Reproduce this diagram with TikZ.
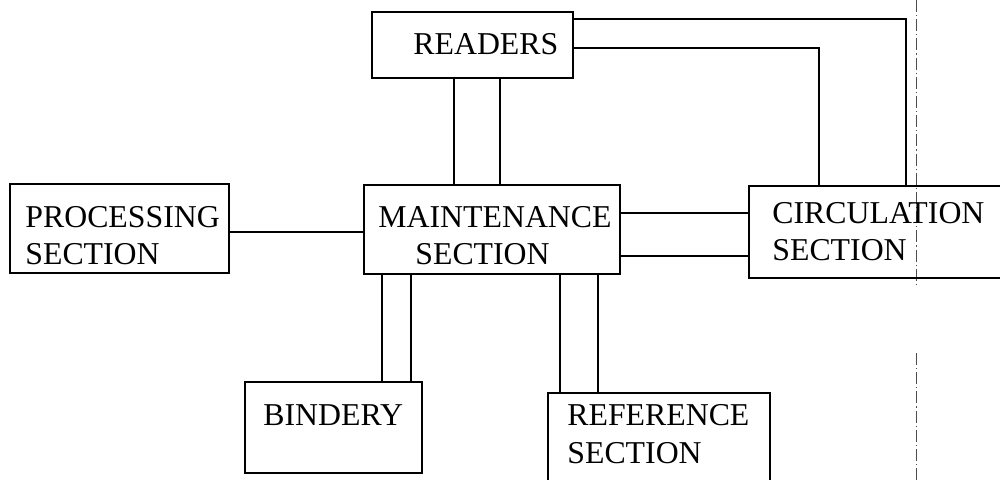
\documentclass[tikz,border=0pt]{standalone}
\usepackage{fontspec}
\setmainfont{Liberation Serif}
\begin{document}
\begin{tikzpicture}[x=0.5pt,y=-0.5pt,
  box/.style={draw,line width=1pt,inner sep=0pt,anchor=north west},
  lbl/.style={inner sep=0pt,anchor=base west,font=\fontsize{15.9}{18}\selectfont},
  link/.style={line width=0.9pt},
  thin link/.style={line width=0.6pt},
  fold/.style={line width=0.4pt,dash pattern=on 6pt off 1.5pt on 0.6pt off 1.5pt,black!70}]
\useasboundingbox (0,0) rectangle (1000,480);
\clip (0,0) rectangle (1000,480);
% fold line of the scan
\coordinate (f1) at (916,0);
\coordinate (f2) at (916,287);
\coordinate (f3) at (916,353);
\coordinate (f4) at (916,480);
\draw[fold] (f1) -- (f2);
\draw[fold] (f3) -- (f4);
% boxes
\node[box,minimum width=201*0.5pt,minimum height=66*0.5pt] (readers) at (371,11) {};
\node[box,minimum width=219*0.5pt,minimum height=89*0.5pt] (proc) at (9,183) {};
\node[box,minimum width=256*0.5pt,minimum height=89*0.5pt] (maint) at (363,184) {};
\node[box,minimum width=270*0.5pt,minimum height=92*0.5pt] (circ) at (748,185) {};
\node[box,minimum width=177*0.5pt,minimum height=91*0.5pt] (bind) at (244,381) {};
\node[box,minimum width=222*0.5pt,minimum height=110*0.5pt] (ref) at (547,392) {};
% labels
\node[lbl] (readersT) at (413,55) {READERS};
\node[lbl] (procT1) at (25,228) {PROCESSING};
\node[lbl] (procT2) at (25,265) {SECTION};
\node[lbl] (maintT1) at (378,228) {MAINTENANCE};
\node[lbl] (maintT2) at (415,265) {SECTION};
\node[lbl] (circT1) at (772,224) {CIRCULATION};
\node[lbl] (circT2) at (772,261) {SECTION};
\node[lbl] (bindT) at (263,425) {BINDERY};
\node[lbl] (refT1) at (567,425) {REFERENCE};
\node[lbl] (refT2) at (567,463) {SECTION};
% readers - maintenance (double bar)
\draw[link] (readers.south -| 454,0) -- (maint.north -| 454,0);
\draw[link] (readers.south -| 500,0) -- (maint.north -| 500,0);
% readers - circulation
\draw[link] (readers.east |- 0,19) -- (906,19) -- (circ.north -| 906,0);
\draw[link] (readers.east |- 0,48) -- (819,48) -- (circ.north -| 819,0);
% processing - maintenance
\draw[thin link] (proc.east |- 0,232) -- (maint.west |- 0,232);
% maintenance - circulation
\draw[thin link] (maint.east |- 0,213) -- (circ.west |- 0,213);
\draw[thin link] (maint.east |- 0,256) -- (circ.west |- 0,256);
% maintenance - bindery
\draw[link] (maint.south -| 382,0) -- (bind.north -| 382,0);
\draw[link] (maint.south -| 411,0) -- (bind.north -| 411,0);
% maintenance - reference
\draw[link] (maint.south -| 560,0) -- (ref.north -| 560,0);
\draw[link] (maint.south -| 598,0) -- (ref.north -| 598,0);
\end{tikzpicture}
\end{document}
